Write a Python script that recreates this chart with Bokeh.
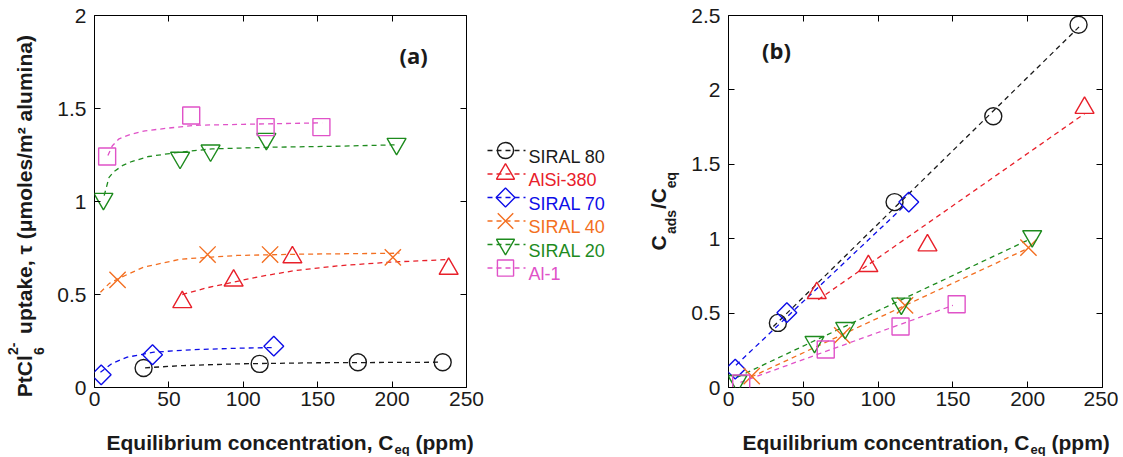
import numpy as np
from bokeh.plotting import figure
from bokeh.models import Range1d, FixedTicker, LinearAxis, CustomJSTickFormatter, Plot
from bokeh.layouts import row, column
from bokeh.embed import file_html
from bokeh.resources import INLINE
from bokeh.core.properties import value

# ---------------- data ----------------
names = ["SIRAL 80", "AlSi-380", "SIRAL 70", "SIRAL 40", "SIRAL 20", "Al-1"]
colors = ["#1a1a1a", "#e8202a", "#0d0de8", "#f36f21", "#1e8b1e", "#e052c8"]
markers = ["circle", "triangle", "diamond", "x", "inverted_triangle", "square"]

ceq_siral80 = [33, 111, 177, 234]
tau_siral80 = [0.105, 0.127, 0.136, 0.136]
ratio_siral80 = [0.434, 1.246, 1.823, 2.438]

ceq_alsi380 = [59, 93.5, 133, 238]
tau_alsi380 = [0.459, 0.575, 0.700, 0.638]
ratio_alsi380 = [0.635, 0.816, 0.955, 1.879]

ceq_siral70 = [4.5, 39, 120.5]
tau_siral70 = [0.068, 0.176, 0.222]
ratio_siral70 = [0.123, 0.503, 1.246]

ceq_siral40 = [15.5, 76, 118, 200.5]
tau_siral40 = [0.579, 0.715, 0.715, 0.700]
ratio_siral40 = [0.076, 0.351, 0.552, 0.940]

ceq_siral20 = [6, 57.5, 78, 115.5, 203]
tau_siral20 = [1.014, 1.235, 1.274, 1.337, 1.310]
ratio_siral20 = [0.044, 0.306, 0.400, 0.564, 1.017]

ceq_al1 = [8.5, 65, 115, 152.5]
tau_al1 = [1.242, 1.462, 1.400, 1.400]
ratio_al1 = [0.027, 0.255, 0.410, 0.559]

# fitted (Langmuir) curves in (a)
fit_a_x_siral80 = [34, 60, 95, 150, 233]
fit_a_y_siral80 = [0.106, 0.118, 0.127, 0.133, 0.136]
fit_a_x_alsi380 = [59, 75, 88, 110, 135, 165, 199, 238]
fit_a_y_alsi380 = [0.500, 0.535, 0.557, 0.595, 0.629, 0.655, 0.674, 0.688]
fit_a_x_siral70 = [4, 12, 22, 40, 65, 96, 120]
fit_a_y_siral70 = [0.082, 0.130, 0.163, 0.190, 0.203, 0.211, 0.215]
fit_a_x_siral40 = [4, 10, 18, 33, 58, 96, 140, 205]
fit_a_y_siral40 = [0.512, 0.560, 0.593, 0.647, 0.690, 0.710, 0.717, 0.722]
fit_a_x_siral20 = [6.5, 9.8, 13, 19, 25, 36.5, 57, 79, 120, 162, 204]
fit_a_y_siral20 = [1.032, 1.130, 1.160, 1.194, 1.215, 1.242, 1.265, 1.283, 1.292, 1.297, 1.305]
fit_a_x_al1 = [9, 12, 16.5, 24, 34, 50, 68, 100, 153]
fit_a_y_al1 = [1.247, 1.300, 1.337, 1.360, 1.380, 1.395, 1.410, 1.415, 1.423]

# linear fits in (b)
fit_b_x_siral80 = [30, 235]
fit_b_y_siral80 = [0.41, 2.43]
fit_b_x_alsi380 = [60, 238]
fit_b_y_alsi380 = [0.59, 1.84]
fit_b_x_siral70 = [5, 118]
fit_b_y_siral70 = [0.15, 1.225]
fit_b_x_siral40 = [15, 198]
fit_b_y_siral40 = [0.07, 0.925]
fit_b_x_siral20 = [6, 200]
fit_b_y_siral20 = [0.07, 0.99]
fit_b_x_al1 = [8, 150]
fit_b_y_al1 = [0.035, 0.552]

x_ticks = [0, 50, 100, 150, 200, 250]
x_tick_labels = ["0", "50", "100", "150", "200", "250"]
y_ticks_a = [0, 0.5, 1, 1.5, 2]
y_tick_labels_a = ["0", "0.5", "1", "1.5", "2"]
y_ticks_b = [0, 0.5, 1, 1.5, 2, 2.5]
y_tick_labels_b = ["0", "0.5", "1", "1.5", "2", "2.5"]

ceq_all = [ceq_siral80, ceq_alsi380, ceq_siral70, ceq_siral40, ceq_siral20, ceq_al1]
tau_all = [tau_siral80, tau_alsi380, tau_siral70, tau_siral40, tau_siral20, tau_al1]
ratio_all = [ratio_siral80, ratio_alsi380, ratio_siral70, ratio_siral40, ratio_siral20, ratio_al1]
fit_a_all = [(fit_a_x_siral80, fit_a_y_siral80), (fit_a_x_alsi380, fit_a_y_alsi380),
             (fit_a_x_siral70, fit_a_y_siral70), (fit_a_x_siral40, fit_a_y_siral40),
             (fit_a_x_siral20, fit_a_y_siral20), (fit_a_x_al1, fit_a_y_al1)]
fit_b_all = [(fit_b_x_siral80, fit_b_y_siral80), (fit_b_x_alsi380, fit_b_y_alsi380),
             (fit_b_x_siral70, fit_b_y_siral70), (fit_b_x_siral40, fit_b_y_siral40),
             (fit_b_x_siral20, fit_b_y_siral20), (fit_b_x_al1, fit_b_y_al1)]

# ---------------- style ----------------
TICK_FONT = "Liberation Sans"
TITLE_FONT = "Liberation Sans"
DASH = "5 4"
MARKER_SIZE = {"circle": 17, "triangle": 19, "inverted_triangle": 19, "x": 23, "square": 17, "diamond": 14}
HAS_FRAME_ALIGN = "frame_align" in Plot.properties()
TOP_H = 418
BOT_H = 38


def add_marker(p, xs, ys, kind, color, scale=1.0):
    size = MARKER_SIZE[kind] * scale
    if kind == "diamond":
        p.scatter(xs, ys, marker="square", angle=np.pi / 4, size=size,
                  line_color=color, fill_color=None, line_width=1.4)
    else:
        p.scatter(xs, ys, marker=kind, size=size,
                  line_color=color, fill_color=None, line_width=1.4)


def fmt(ticks, labels):
    return CustomJSTickFormatter(args=dict(vals=ticks, labels=labels), code="""
        const i = vals.findIndex(v => Math.abs(v - tick) < 1e-9);
        return i >= 0 ? labels[i] : String(tick);
    """)


def style_axes(p, y_ticks, y_labels):
    p.grid.grid_line_color = None
    p.outline_line_color = "black"
    p.outline_line_width = 1
    p.background_fill_color = "white"
    p.border_fill_color = "white"
    bottom = p.below[0]
    left = p.left[0]
    bottom.ticker = FixedTicker(ticks=x_ticks)
    bottom.formatter = fmt(x_ticks, x_tick_labels)
    left.ticker = FixedTicker(ticks=y_ticks)
    left.formatter = fmt(y_ticks, y_labels)
    blank = CustomJSTickFormatter(code="return '';")
    right = LinearAxis(ticker=FixedTicker(ticks=y_ticks), formatter=blank)
    above = LinearAxis(ticker=FixedTicker(ticks=x_ticks), formatter=blank)
    p.add_layout(right, "right")
    p.add_layout(above, "above")
    for ax in [bottom, left, right, above]:
        ax.major_tick_in = 6
        ax.major_tick_out = 0
        ax.minor_tick_line_color = None
        ax.axis_line_color = None
        ax.major_tick_line_color = "black"
        ax.major_tick_line_width = 1
        ax.major_label_text_font = TICK_FONT
        ax.major_label_text_font_size = "21px"
        ax.major_label_text_color = "#1a1a1a"
    for ax in [right, above]:
        ax.major_label_standoff = 0
    left.major_label_standoff = 8
    bottom.major_label_standoff = 4


def helper_fig(w, h):
    kw = dict(width=w, height=h, x_range=Range1d(0, w), y_range=Range1d(0, h),
              output_backend="svg", toolbar_location=None, min_border=0,
              x_axis_location=None, y_axis_location=None)
    if HAS_FRAME_ALIGN:
        kw["frame_align"] = False
    f = figure(**kw)
    f.grid.grid_line_color = None
    f.outline_line_color = None
    f.background_fill_color = "white"
    f.border_fill_color = "white"
    return f


def txt(f, x, y, s, size, angle=0.0, align="left", baseline="alphabetic"):
    f.text([x], [y], text=[s], angle=angle, text_color="#1a1a1a",
           text_font=value(TITLE_FONT), text_font_size=f"{size}px",
           text_font_style="bold", text_align=align, text_baseline=baseline)


def vtxt(f, xc, yc, s, size):
    # rotated text, placed by its centre
    txt(f, xc, yc, s, size, angle=np.pi / 2, align="center", baseline="middle")


# ---------------- y title (a) ---------------- (coords: x = page x, y = TOP_H - page y)
yta = helper_fig(54, TOP_H)
vtxt(yta, 23.5, TOP_H - 375.7, "PtCl", 21)
vtxt(yta, 38.0, TOP_H - 350.6, "6", 14)
vtxt(yta, 12.5, TOP_H - 348.3, "2-", 14)
vtxt(yta, 23.5, TOP_H - 184.0, "uptake, \u03c4 (\u03bcmoles/m\u00b2 alumina)", 21)

# ---------------- (a) ----------------
pa = figure(width=432, height=TOP_H, x_range=Range1d(0, 250), y_range=Range1d(0, 2),
            output_backend="svg", toolbar_location=None,
            min_border_left=38, min_border_right=20, min_border_top=15, min_border_bottom=31)
style_axes(pa, y_ticks_a, y_tick_labels_a)
for (fx, fy), c in zip(fit_a_all, colors):
    pa.line(fx, fy, line_color=c, line_dash=DASH, line_width=1.3)
for xs, ys, c, m in zip(ceq_all, tau_all, colors, markers):
    add_marker(pa, xs, ys, m, c)
pa.text([214.5], [1.79], text=["(a)"], text_font=value("Open Sans"), text_font_size="22px",
        text_font_style="bold", text_color="#1a1a1a", text_align="center",
        text_baseline="alphabetic")

# ---------------- legend (middle) ---------------- (coords: x = page x - 486)
pm = helper_fig(154, TOP_H)
for i, (nm, c, m) in enumerate(zip(names, colors, markers)):
    cy = 150 + 23.5 * i          # row centre in page px
    yy = TOP_H - cy
    pm.line([1, 39], [yy, yy], line_color=c, line_dash=DASH, line_width=1.3)
    add_marker(pm, [19], [yy], m, c, scale=0.95)
    pm.text([42], [TOP_H - (cy + 6.4)], text=[nm], text_color=c,
            text_font=value("Liberation Sans"), text_font_size="18px",
            text_baseline="alphabetic", text_align="left")

# ---------------- y title (b) ---------------- (coords: x = page x - 640)
ytb = helper_fig(48, TOP_H)
vtxt(ytb, 17.5, TOP_H - 242.5, "C", 21)
vtxt(ytb, 30.5, TOP_H - 221.5, "ads", 14)
vtxt(ytb, 17.5, TOP_H - 198.0, "/C", 21)
vtxt(ytb, 30.5, TOP_H - 179.5, "eq", 14)

# ---------------- (b) ----------------
pb = figure(width=430, height=TOP_H, x_range=Range1d(0, 250), y_range=Range1d(0, 2.5),
            output_backend="svg", toolbar_location=None,
            min_border_left=40, min_border_right=16, min_border_top=15, min_border_bottom=31)
style_axes(pb, y_ticks_b, y_tick_labels_b)
for (fx, fy), c in zip(fit_b_all, colors):
    pb.line(fx, fy, line_color=c, line_dash=DASH, line_width=1.3)
for xs, ys, c, m in zip(ceq_all, ratio_all, colors, markers):
    add_marker(pb, xs, ys, m, c)
pb.text([32.1], [2.27], text=["(b)"], text_font=value("Open Sans"), text_font_size="22px",
        text_font_style="bold", text_color="#1a1a1a", text_align="center",
        text_baseline="alphabetic")

# ---------------- x titles (bottom strip) ----------------
xt = helper_fig(1118, BOT_H)
for fl in (92, 728):
    txt(xt, fl + 14, BOT_H - (442 - TOP_H), "Equilibrium concentration, C", 21)
    txt(xt, fl + 302, BOT_H - (448.5 - TOP_H), "eq", 13)
    txt(xt, fl + 323, BOT_H - (442 - TOP_H), "(ppm)", 21)

top = row(yta, pa, pm, ytb, pb, spacing=0)
layout = column(top, xt, spacing=0)
open("out.html", "w").write(file_html(layout, INLINE))
